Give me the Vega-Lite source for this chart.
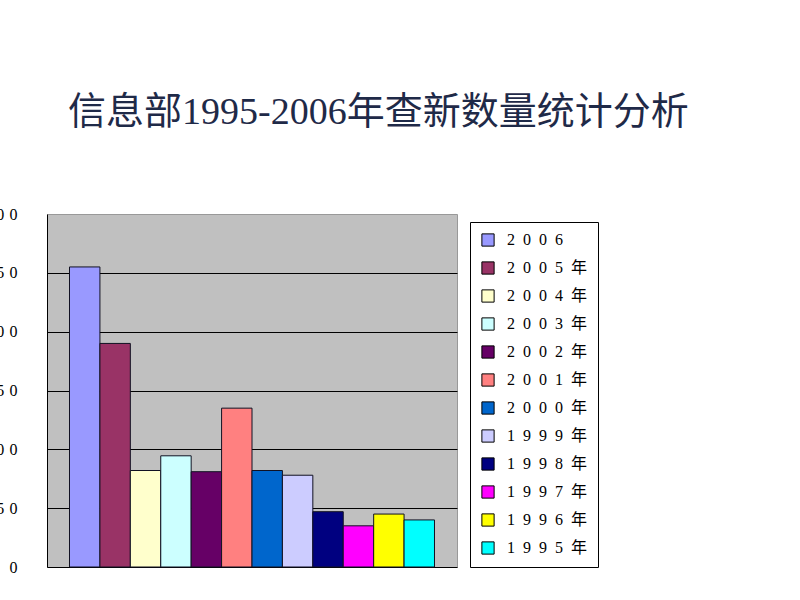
{
  "$schema": "https://vega.github.io/schema/vega-lite/v6.json",
  "autosize": "none",
  "width": 410,
  "height": 353,
  "padding": {"left": 47, "top": 214, "right": 343, "bottom": 33},
  "background": "white",
  "title": {
    "text": "信息部1995-2006年查新数量统计分析",
    "font": "Liberation Serif, Noto Sans CJK SC",
    "fontSize": 38,
    "fontWeight": "normal",
    "color": "#1f2a48",
    "anchor": "start",
    "frame": "group",
    "baseline": "alphabetic",
    "dx": 21,
    "offset": 44
  },
  "data": {
    "values": [
      {"year": "2006", "value": 255},
      {"year": "2005年", "value": 190},
      {"year": "2004年", "value": 82},
      {"year": "2003年", "value": 94.5},
      {"year": "2002年", "value": 81},
      {"year": "2001年", "value": 135},
      {"year": "2000年", "value": 82},
      {"year": "1999年", "value": 78},
      {"year": "1998年", "value": 47},
      {"year": "1997年", "value": 35},
      {"year": "1996年", "value": 45},
      {"year": "1995年", "value": 40}
    ]
  },
  "mark": {"type": "bar", "stroke": "#111122", "strokeWidth": 1},
  "encoding": {
    "x": {
      "field": "year",
      "type": "nominal",
      "sort": null,
      "scale": {"paddingInner": 0, "paddingOuter": 0.74},
      "axis": {"labels": false, "ticks": false, "title": null, "domainColor": "black", "domainWidth": 1, "grid": false}
    },
    "y": {
      "field": "value",
      "type": "quantitative",
      "scale": {"domain": [0, 300], "nice": false},
      "axis": {
        "values": [0, 50, 100, 150, 200, 250, 300],
        "title": null,
        "ticks": false,
        "domainColor": "black",
        "grid": true,
        "gridColor": {"condition": {"test": "datum.value === 300 || datum.value === 0", "value": "transparent"}, "value": "black"},
        "gridOpacity": 1,
        "gridWidth": 1,
        "labelFont": "Liberation Serif",
        "labelFontSize": 16,
        "labelColor": "black",
        "labelPadding": 30,
        "labelExpr": "join(split(datum.label, ''), '\u2004')"
      }
    },
    "color": {
      "field": "year",
      "type": "nominal",
      "sort": null,
      "scale": {
        "domain": ["2006", "2005年", "2004年", "2003年", "2002年", "2001年", "2000年", "1999年", "1998年", "1997年", "1996年", "1995年"],
        "range": ["#9999ff", "#993366", "#ffffcc", "#ccffff", "#660066", "#ff8080", "#0066cc", "#ccccff", "#000080", "#ff00ff", "#ffff00", "#00ffff"]
      },
      "legend": {
        "title": null,
        "orient": "none",
        "legendX": 423,
        "legendY": 8,
        "padding": 10,
        "strokeColor": "black",
        "fillColor": "white",
        "symbolType": "square",
        "symbolSize": 150,
        "symbolStrokeColor": "black",
        "symbolStrokeWidth": 1,
        "symbolOpacity": 1,
        "labelFont": "Liberation Serif, Noto Sans CJK SC",
        "labelFontSize": 16,
        "labelColor": "black",
        "labelOffset": 11,
        "rowPadding": 10,
        "labelExpr": "join(split(datum.label, ''), '\u2002')"
      }
    }
  },
  "config": {
    "view": {"fill": "#c0c0c0", "stroke": "#999999"}
  }
}
